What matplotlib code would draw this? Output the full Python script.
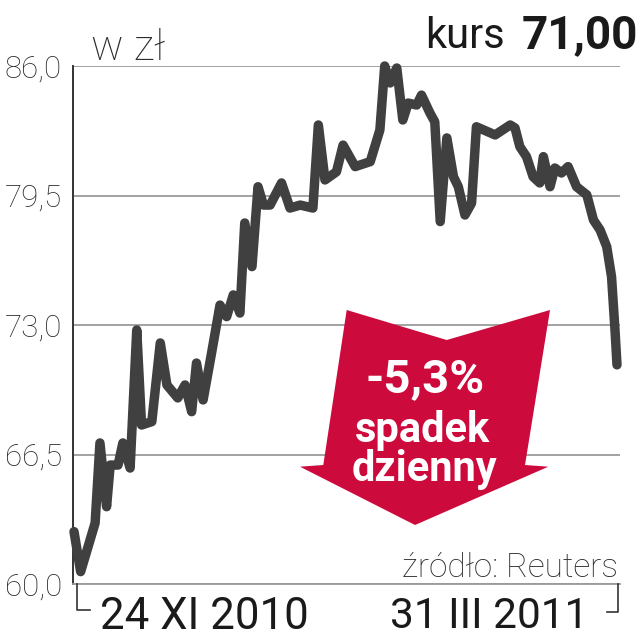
import matplotlib
matplotlib.use("Agg")
import matplotlib.pyplot as plt
from matplotlib.patches import Polygon

plt.rcParams['font.family'] = ['Roboto', 'DejaVu Sans']

# ---- data ----
day = [0, 1.1, 3.5, 4.3, 5.4, 6.0, 7.3, 8.1, 9.3, 10.4, 11.2, 12.9, 14.3, 15.4, 17.2,
       18.4, 19.5, 20.3, 21.4, 22.8, 24.2, 25.3, 26.4, 27.5, 28.3, 29.5, 30.5, 31.4,
       32.5, 34.4, 35.8, 37.5, 39.6, 40.5, 41.6, 43.5, 44.6, 46.6, 49.1, 50.7, 51.5,
       52.4, 53.5, 54.5, 55.4, 56.8, 57.6, 59.0, 59.8, 60.7, 61.8, 62.9, 63.7, 64.8,
       65.9, 66.7, 69.8, 72.3, 73.1, 73.9, 75.0, 76.1, 77.2, 77.8, 78.9, 79.7, 80.8,
       81.9, 83.3, 85.0, 86.1, 87.2, 88.3, 89.1, 89.7, 90.0]
price = [62.63, 60.62, 63.06, 67.08, 63.88, 65.97, 65.97, 67.08, 65.82, 72.75, 67.98,
         68.15, 72.10, 69.99, 69.34, 69.99, 68.65, 71.09, 69.24, 71.59, 74.00, 73.42,
         74.51, 73.60, 78.12, 75.93, 79.94, 79.02, 79.02, 80.13, 78.87, 79.02, 78.87,
         83.04, 80.28, 80.69, 82.03, 80.95, 81.20, 82.79, 86.00, 85.15, 85.90, 83.29,
         84.14, 84.04, 84.54, 83.64, 83.20, 78.19, 82.39, 80.44, 79.94, 78.52, 79.12,
         82.95, 82.54, 83.04, 82.89, 81.95, 81.45, 80.44, 80.13, 81.45, 79.94, 80.88,
         80.63, 80.95, 79.94, 79.53, 78.27, 77.77, 76.93, 75.42, 72.60, 71.00]
yticks = [60.0, 66.5, 73.0, 79.5, 86.0]
ytick_labels = ["60,0", "66,5", "73,0", "79,5", "86,0"]
unit_label = "w zł"
price_word = "kurs"
price_value = "71,00"
start_label = "24 XI 2010"
end_label = "31 III 2011"
source_label = "źródło: Reuters"
change_label = "-5,3%"
change_text = ["spadek", "dzienny"]

W, H = 641, 640
fig = plt.figure(figsize=(W / 100, H / 100), dpi=100)
fig.patch.set_facecolor('white')

# main axes
L, R, T, B = 73, 620, 66, 584
ax = fig.add_axes([L / W, 1 - B / H, (R - L) / W, (B - T) / H])
ax.set_xlim(-0.166, 90.5)
ax.set_ylim(60, 86)
ax.set_yticks(yticks)
ax.set_yticklabels(ytick_labels)
ax.set_xticks([])
ax.tick_params(axis='y', length=0, pad=8, labelsize=22.5, labelcolor='#2a2a2a')
for lab in ax.get_yticklabels():
    lab.set_fontweight('light')
ax.grid(axis='y', color='#9b9b9b', linewidth=1.3, zorder=1)
ax.set_axisbelow(True)
for s in ['top', 'right']:
    ax.spines[s].set_visible(False)
ax.spines['bottom'].set_color('#9b9b9b')
ax.spines['bottom'].set_linewidth(1.3)
ax.spines['left'].set_color('#333333')
ax.spines['left'].set_linewidth(1.4)
ax.plot(day, price, color='#404040', linewidth=6.8, solid_joinstyle='round',
        solid_capstyle='round', clip_on=False, zorder=4)

# overlay in pixel coordinates for annotations
ov = fig.add_axes([0, 0, 1, 1], zorder=3)
ov.set_xlim(0, W)
ov.set_ylim(H, 0)
ov.axis('off')
ov.patch.set_alpha(0)

arrow = [(346.7, 310), (446.7, 340), (550, 310), (525, 465), (548.3, 466.7),
         (415, 525), (300, 466.7), (323.3, 465)]
ov.add_patch(Polygon(arrow, closed=True, facecolor='#CC0A3C', edgecolor='none', zorder=2))

ov.text(425, 392, change_label, ha='center', va='baseline', fontsize=34,
        fontweight='bold', color='white', zorder=3)
ov.text(423, 442, change_text[0], ha='center', va='baseline', fontsize=30,
        fontweight='bold', color='white', zorder=3)
ov.text(424, 481, change_text[1], ha='center', va='baseline', fontsize=30,
        fontweight='bold', color='white', zorder=3)

ov.text(91, 60, unit_label, ha='left', va='baseline', fontsize=31,
        fontweight='light', color='#2a2a2a')
ov.text(505, 48, price_word, ha='right', va='baseline', fontsize=30,
        color='#1a1a1a')
ov.text(638, 48, price_value, ha='right', va='baseline', fontsize=33,
        fontweight='bold', color='#1a1a1a')
ov.text(618, 577, source_label, ha='right', va='baseline', fontsize=24,
        fontweight='light', color='#2a2a2a')
ov.text(100, 629, start_label, ha='left', va='baseline', fontsize=31.5,
        color='#1a1a1a')
ov.text(588, 628, end_label, ha='right', va='baseline', fontsize=30.5,
        color='#1a1a1a')

# end brackets
ov.plot([77, 77, 90], [584, 610, 610], color='#333333', linewidth=1.2)
ov.plot([618, 618, 607], [584, 612, 612], color='#333333', linewidth=1.2)

fig.savefig('out.png', dpi=100, facecolor='white')
